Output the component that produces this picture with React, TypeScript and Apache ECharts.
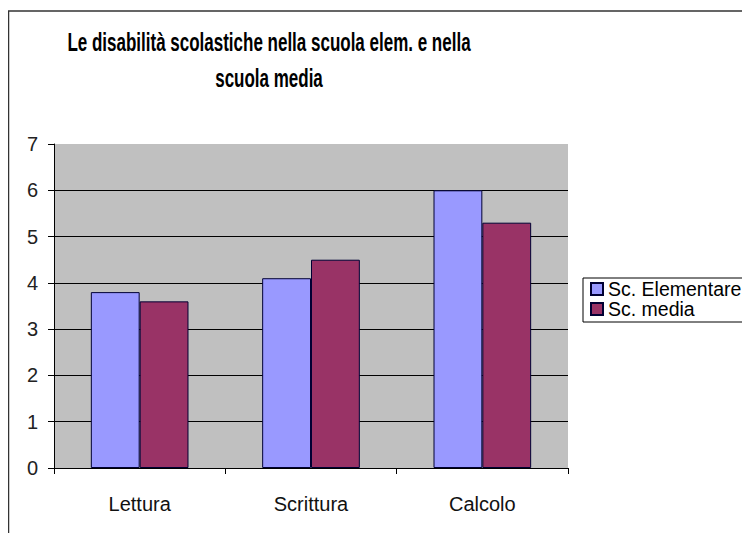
import React, { useEffect, useRef } from "react";
import * as echarts from "echarts";

const categories = ["Lettura", "Scrittura", "Calcolo"];
const elementare = [3.8, 4.1, 6.0];
const media = [3.6, 4.5, 5.3];
const seriesNames = ["Sc. Elementare", "Sc. media"];
const titleLines = ["Le disabilità scolastiche nella scuola elem. e nella", "scuola media"];

const FONT = "Liberation Sans, Arial, sans-serif";

export default function App() {
  const ref = useRef<HTMLDivElement>(null);
  useEffect(() => {
    if (!ref.current) return;
    const chart = echarts.init(ref.current, undefined, { renderer: "svg" });
    chart.setOption({
      animation: false,
      backgroundColor: "#ffffff",
      textStyle: { fontFamily: FONT },
      graphic: [
        {
          type: "rect",
          shape: { x: 0.5, y: 3, width: 900, height: 700 },
          style: { fill: "none", stroke: "#333", lineWidth: 1.5 },
          silent: true,
          z: -1,
        },
        {
          type: "group",
          x: 261,
          y: 52,
          scaleY: 1.5,
          children: titleLines.map((t, i) => ({
            type: "text",
            x: 0,
            y: (i - 0.5) * 24,
            style: {
              text: t,
              fontSize: 17,
              fontWeight: "bold",
              fontFamily: FONT,
              fill: "#000",
              textAlign: "center",
              align: "center",
              textVerticalAlign: "middle",
              verticalAlign: "middle",
            },
          })),
        },
      ],
      legend: {
        orient: "vertical",
        left: 575,
        top: 270,
        data: seriesNames,
        icon: "rect",
        itemWidth: 12,
        itemHeight: 12,
        itemGap: 0,
        padding: [1, 6, 3, 7],
        borderColor: "#000",
        borderWidth: 1,
        backgroundColor: "#fff",
        textStyle: { fontSize: 19.5, color: "#000", fontFamily: FONT },
      },
      grid: {
        left: 46,
        top: 136,
        width: 514,
        height: 324,
        show: true,
        backgroundColor: "#C0C0C0",
        borderWidth: 0,
        containLabel: false,
      },
      xAxis: {
        type: "category",
        data: categories,
        boundaryGap: true,
        axisLine: { show: true, lineStyle: { color: "#000", width: 1 } },
        axisTick: { show: true, alignWithLabel: false, length: 6, lineStyle: { color: "#000" } },
        axisLabel: { fontSize: 20, color: "#111", margin: 26, fontFamily: FONT },
        splitLine: { show: false },
      },
      yAxis: {
        type: "value",
        min: 0,
        max: 7,
        interval: 1,
        axisLine: { show: true, lineStyle: { color: "#000", width: 1 } },
        axisTick: { show: true, length: 6, lineStyle: { color: "#000" } },
        axisLabel: { fontSize: 20, color: "#222", margin: 16, fontFamily: FONT },
        splitLine: { show: true, showMaxLine: false, lineStyle: { color: "#000", width: 1 } },
      },
      series: [
        {
          name: seriesNames[0],
          type: "bar",
          data: elementare,
          barWidth: "28.5%",
          barGap: "0%",
          itemStyle: { color: "#9999FF", borderColor: "#000033", borderWidth: 1 },
        },
        {
          name: seriesNames[1],
          type: "bar",
          data: media,
          barWidth: "28.5%",
          barGap: "0%",
          itemStyle: { color: "#993366", borderColor: "#000033", borderWidth: 1 },
        },
      ],
    });
    return () => chart.dispose();
  }, []);
  return <div ref={ref} style={{ width: 742, height: 525 }} />;
}
